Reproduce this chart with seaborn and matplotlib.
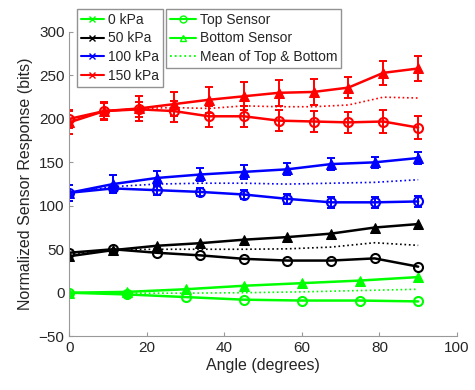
import pandas as pd
import seaborn as sns
import matplotlib
import matplotlib.pyplot as plt
from matplotlib.lines import Line2D

matplotlib.use('agg')

# angles per pressure level
ang_0 = [0, 15, 30, 45, 60, 75, 90]
ang_50 = [0, 11.25, 22.5, 33.75, 45, 56.25, 67.5, 78.75, 90]
ang_100 = [0, 11.25, 22.5, 33.75, 45, 56.25, 67.5, 78.75, 90]
ang_150 = [0, 9, 18, 27, 36, 45, 54, 63, 72, 81, 90]

# 0 kPa
top_0 = [0, -2, -5, -8, -9, -9, -10]
bot_0 = [0, 1, 4, 8, 11, 14, 18]
mean_0 = [0, -0.5, -0.5, 0, 1, 2.5, 4]

# 50 kPa
top_50 = [46, 50, 46, 43, 39, 37, 37, 39.5, 30]
bot_50 = [42, 49, 54, 57, 61, 64, 68, 75, 79]
mean_50 = [44, 49.5, 50, 50, 50, 50.5, 52.5, 57.5, 54.5]

# 100 kPa
top_100 = [115, 120, 118, 116, 113, 108, 104, 104, 105]
bot_100 = [115, 125, 132, 136, 139, 142, 148, 150, 155]
mean_100 = [115, 122, 125, 126, 126, 125, 126, 127, 130]
top_100_err = [9, 3, 5, 5, 5, 6, 6, 6, 6]
bot_100_err = [9, 10, 8, 7, 8, 7, 7, 6, 7]

# 150 kPa
top_150 = [200, 209, 211, 209, 203, 203, 198, 197, 196, 197, 190]
bot_150 = [196, 209, 212, 217, 222, 226, 230, 231, 236, 253, 258]
mean_150 = [198, 209, 212, 213, 212, 215, 214, 214, 216, 225, 224]
top_150_err = [10, 9, 9, 12, 12, 12, 12, 12, 12, 13, 13]
bot_150_err = [13, 10, 14, 14, 15, 16, 15, 15, 12, 14, 14]

levels = ['0 kPa', '50 kPa', '100 kPa', '150 kPa']
colors = ['#00ff00', '#000000', '#0000ff', '#ff0000']

rows = []
data = [
    (ang_0, top_0, bot_0, mean_0, None, None),
    (ang_50, top_50, bot_50, mean_50, None, None),
    (ang_100, top_100, bot_100, mean_100, top_100_err, bot_100_err),
    (ang_150, top_150, bot_150, mean_150, top_150_err, bot_150_err),
]
for lvl, (ang, top, bot, mean, te, be) in zip(levels, data):
    for i, a in enumerate(ang):
        rows.append({'angle': a, 'value': top[i], 'level': lvl, 'sensor': 'Top',
                     'err': te[i] if te else 0})
        rows.append({'angle': a, 'value': bot[i], 'level': lvl, 'sensor': 'Bottom',
                     'err': be[i] if be else 0})
        rows.append({'angle': a, 'value': mean[i], 'level': lvl, 'sensor': 'Mean',
                     'err': 0})
df = pd.DataFrame(rows)

sns.set_style('ticks')
plt.rcParams['font.family'] = ['Liberation Sans', 'DejaVu Sans']

fig = plt.figure(figsize=(4.75, 3.9), dpi=100)
ax = fig.add_axes([0.146, 0.138, 0.816, 0.78])

palette = dict(zip(levels, colors))
for lvl in levels:
    sub = df[df['level'] == lvl]
    top = sub[sub['sensor'] == 'Top']
    bot = sub[sub['sensor'] == 'Bottom']
    mn = sub[sub['sensor'] == 'Mean']
    c = palette[lvl]
    sns.lineplot(data=mn, x='angle', y='value', color=c, lw=1.2,
                 linestyle=':', ax=ax, legend=False)
    sns.lineplot(data=top, x='angle', y='value', color=c, lw=1.8,
                 marker='o', markersize=6.5, markerfacecolor='none',
                 markeredgecolor=c, markeredgewidth=1.5, ax=ax, legend=False)
    sns.lineplot(data=bot, x='angle', y='value', color=c, lw=1.8,
                 marker='^', markersize=6.5, markerfacecolor=c,
                 markeredgecolor=c, ax=ax, legend=False)
    if top['err'].sum() > 0:
        ax.errorbar(top['angle'], top['value'], yerr=top['err'], fmt='none',
                    ecolor=c, elinewidth=1.4, capsize=3, capthick=1.4)
        ax.errorbar(bot['angle'], bot['value'], yerr=bot['err'], fmt='none',
                    ecolor=c, elinewidth=1.4, capsize=3, capthick=1.4)

ax.set_xlim(0, 100)
ax.set_ylim(-50, 300)
ax.set_xticks(range(0, 101, 20))
ax.set_yticks(range(-50, 301, 50))
ax.set_xlabel('Angle (degrees)', fontsize=11.5, color='#262626', labelpad=2)
ax.set_ylabel('Normalized Sensor Response (bits)', fontsize=11.5, color='#262626')
ax.tick_params(direction='in', length=3, labelsize=11, color='#999999',
               labelcolor='#262626')
for s in ['left', 'bottom']:
    ax.spines[s].set_color('#999999')
sns.despine(ax=ax)

h1 = [Line2D([], [], color=c, marker='x', markersize=4, lw=1.5) for c in colors]
leg1 = ax.legend(h1, levels, loc='upper left', bbox_to_anchor=(0.02, 1.075),
                 fontsize=10, frameon=True, fancybox=False, edgecolor='#777777',
                 handlelength=1.7, handletextpad=0.3, borderpad=0.25,
                 labelspacing=0.35, borderaxespad=0)
leg1.get_frame().set_linewidth(1)
ax.add_artist(leg1)

g = colors[0]
h2 = [Line2D([], [], color=g, marker='o', markerfacecolor='none', markersize=5, lw=1.5),
      Line2D([], [], color=g, marker='^', markerfacecolor='none', markersize=5, lw=1.5),
      Line2D([], [], color=g, linestyle=':', lw=1.3)]
leg2 = ax.legend(h2, ['Top Sensor', 'Bottom Sensor', 'Mean of Top & Bottom'],
                 loc='upper left', bbox_to_anchor=(0.25, 1.075), fontsize=10,
                 frameon=True, fancybox=False, edgecolor='#777777',
                 handlelength=1.9, handletextpad=0.3, borderpad=0.25,
                 labelspacing=0.35, borderaxespad=0)
leg2.get_frame().set_linewidth(1)

fig.savefig('out.png', dpi=100)
